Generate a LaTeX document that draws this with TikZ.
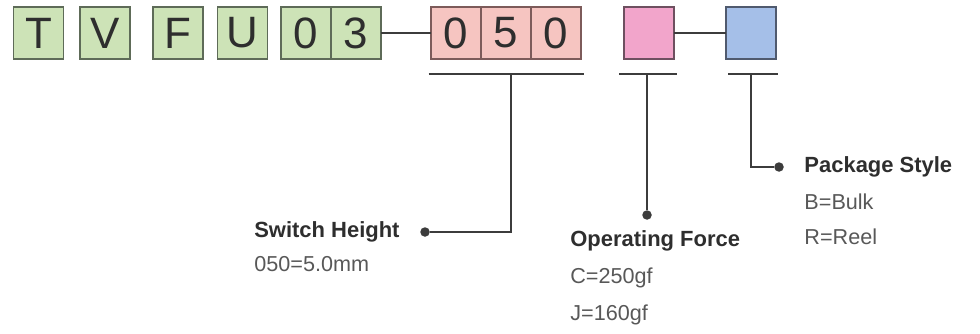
\documentclass[tikz,border=0pt]{standalone}
\usepackage{fontspec}
\setmainfont{Liberation Sans}
\usepackage{xcolor}
\usepackage{tikz}
\usetikzlibrary{positioning,calc}
\definecolor{ink}   {HTML}{2E2E2E}
\definecolor{muted} {HTML}{585858}
\definecolor{linec} {HTML}{3C3C3C}
\definecolor{fillg} {HTML}{CDE3B7}
\definecolor{edgeg} {HTML}{5E6B58}
\definecolor{fillr} {HTML}{F6C5C1}
\definecolor{edger} {HTML}{7D5B5A}
\definecolor{fillp} {HTML}{F2A5CB}
\definecolor{edgep} {HTML}{6E5060}
\definecolor{fillb} {HTML}{A5BFE8}
\definecolor{edgeb} {HTML}{505A6E}
\tikzset{
  seg/.style    = {draw, line width=1.1pt, minimum width=10mm, minimum height=10.4mm,
                   inner sep=0pt, outer sep=0pt, text=ink,
                   font=\fontsize{25}{30}\selectfont},
  seggrn/.style = {seg, fill=fillg, draw=edgeg},
  segred/.style = {seg, fill=fillr, draw=edger},
  segpnk/.style = {seg, fill=fillp, draw=edgep},
  segblu/.style = {seg, fill=fillb, draw=edgeb},
  link/.style   = {draw=linec, line width=1.1pt},
  bullet/.style = {circle, fill=linec, inner sep=0pt, minimum size=1.9mm},
  ttl/.style    = {font=\bfseries\fontsize{12.5}{15}\selectfont, text=ink, inner sep=0pt},
  val/.style    = {font=\fontsize{12.3}{15}\selectfont, text=muted, inner sep=0pt},
}

\begin{document}
\begin{tikzpicture}
  \useasboundingbox (0,0) rectangle (19.6,6.66);

  % part number
  \node[seggrn] (cT) at (0.77,6) {T};
  \node[seggrn] (cV) at (2.10,6) {V};
  \node[seggrn] (cF) at (3.56,6) {F};
  \node[seggrn] (cU) at (4.85,6) {U};
  \node[seggrn] (c0) at (6.12,6) {0};
  \node[seggrn, right=0pt of c0] (c3) {3};
  \node[segred] (h1) at (9.12,6) {0};
  \node[segred, right=0pt of h1] (h2) {5};
  \node[segred, right=0pt of h2] (h3) {0};
  \node[segpnk] (frc) at (12.98,6) {};
  \node[segblu] (pkg) at (15.02,6) {};

  \draw[link] (c3) -- (h1);
  \draw[link] (frc) -- (pkg);

  % brackets under the coded fields
  \coordinate (hgtl) at ($(h1.south west)+(-0.05,-0.3)$);
  \coordinate (hgtr) at ($(h3.south east)+(0.05,-0.3)$);
  \coordinate (hgtm) at ($(h2.south)+(0.1,-0.3)$);
  \coordinate (frcl) at ($(frc.south west)+(-0.1,-0.3)$);
  \coordinate (frcr) at ($(frc.south east)+(0.05,-0.3)$);
  \coordinate (frcm) at ($(frc.south)+(-0.04,-0.3)$);
  \coordinate (pkgl) at ($(pkg.south west)+(0.04,-0.3)$);
  \coordinate (pkgr) at ($(pkg.south east)+(0.04,-0.3)$);
  \coordinate (pkgm) at ($(pkg.south)+(0,-0.3)$);
  \draw[link] (hgtl) -- (hgtr);
  \draw[link] (frcl) -- (frcr);
  \draw[link] (pkgl) -- (pkgr);

  \node[bullet] (hgtdot) at (8.5,2.02) {};
  \node[bullet] (frcdot) at (frcm |- 0,2.36) {};
  \node[bullet] (pkgdot) at (15.58,3.32) {};
  \draw[link] (hgtm) |- (hgtdot);
  \draw[link] (frcm) -- (frcdot);
  \draw[link] (pkgm) |- (pkgdot);

  % legends
  \node[ttl, left=0.4cm of hgtdot] (hgttitle) {Switch Height};
  \node[val, anchor=base west] (hgtval) at ($(hgttitle.base west)+(0,-0.68)$) {050=5.0mm};

  \node[ttl, anchor=base west] (frctitle) at (11.4,1.74) {Operating Force};
  \node[val, anchor=base west] (frcval1) at ($(frctitle.base west)+(0,-0.74)$) {C=250gf};
  \node[val, anchor=base west] (frcval2) at ($(frcval1.base west)+(0,-0.74)$) {J=160gf};

  \node[ttl, right=0.4cm of pkgdot] (pkgtitle) {Package Style};
  \node[val, anchor=base west] (pkgval1) at ($(pkgtitle.base west)+(0,-0.74)$) {B=Bulk};
  \node[val, anchor=base west] (pkgval2) at ($(pkgval1.base west)+(0,-0.70)$) {R=Reel};
\end{tikzpicture}
\end{document}
